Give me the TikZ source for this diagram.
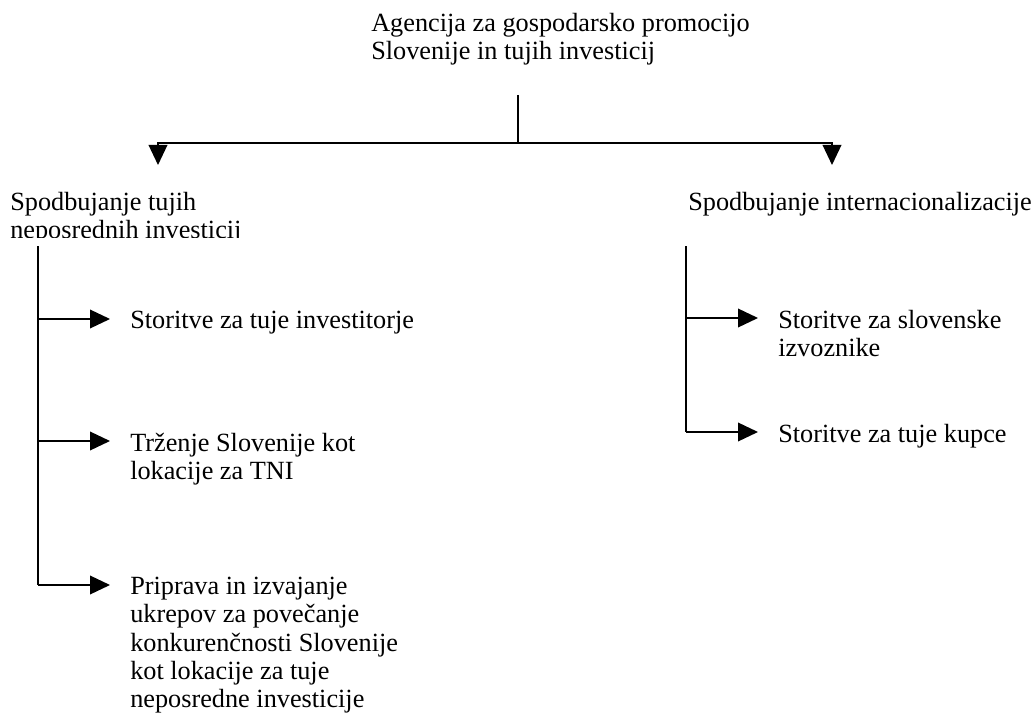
\documentclass[tikz,border=0pt]{standalone}
\usepackage{fontspec}
\setmainfont{Liberation Serif}
\usetikzlibrary{arrows.meta}
\tikzset{
  txt/.style={anchor=north west, inner sep=0pt, align=left, font=\fontsize{19.7}{21.2}\selectfont},
  conn/.style={line width=1.1pt},
  arr/.style={conn, -{Triangle[length=15pt, width=14pt]}},
}
\begin{document}
\begin{tikzpicture}[x=0.75pt, y=-0.75pt]
\useasboundingbox (0,0) rectangle (1034,720);

% Naslov
\node[txt] (agency) at (371,13) {Agencija za gospodarsko promocijo\\Slovenije in tujih investicij};

% Povezava do obeh vej
\coordinate (stem) at (518,95);
\coordinate (hub) at (518,143);
\coordinate (fdi-in) at (158,165);
\coordinate (intl-in) at (832,165);
\draw[conn] (stem) -- (hub);
\draw[arr] (hub) -| (fdi-in);
\draw[arr] (hub) -| (intl-in);

% Veji
\begin{scope}
\clip (0,180) rectangle (400,238);
\node[txt] (fdi) at (10,192) {Spodbujanje tujih\\neposrednih investicij};
\end{scope}
\node[txt] (intl) at (688,192) {Spodbujanje internacionalizacije};

% Leva veja
\node[txt] (svc) at (130,311) {Storitve za tuje investitorje};
\node[txt] (mkt) at (130,433) {Trženje Slovenije kot\\lokacije za TNI};
\node[txt] (prep) at (130,577) {Priprava in izvajanje\\ukrepov za povečanje\\konkurenčnosti Slovenije\\kot lokacije za tuje\\neposredne investicije};
\coordinate (fdi-top) at (38,246);
\coordinate (fdi-b1) at (38,319);
\coordinate (fdi-b2) at (38,441);
\coordinate (fdi-b3) at (38,585);
\draw[conn] (fdi-top) -- (fdi-b3);
\foreach \b/\n in {b1/svc, b2/mkt, b3/prep}
  \draw[arr, shorten >=15pt] (fdi-\b) -- (fdi-\b -| \n.west);

% Desna veja
\node[txt] (exp) at (778,310) {Storitve za slovenske\\izvoznike};
\node[txt] (buy) at (778,424) {Storitve za tuje kupce};
\coordinate (intl-top) at (686,246);
\coordinate (intl-b1) at (686,318);
\coordinate (intl-b2) at (686,432);
\draw[conn] (intl-top) -- (intl-b2);
\foreach \b/\n in {b1/exp, b2/buy}
  \draw[arr, shorten >=15pt] (intl-\b) -- (intl-\b -| \n.west);
\end{tikzpicture}
\end{document}
